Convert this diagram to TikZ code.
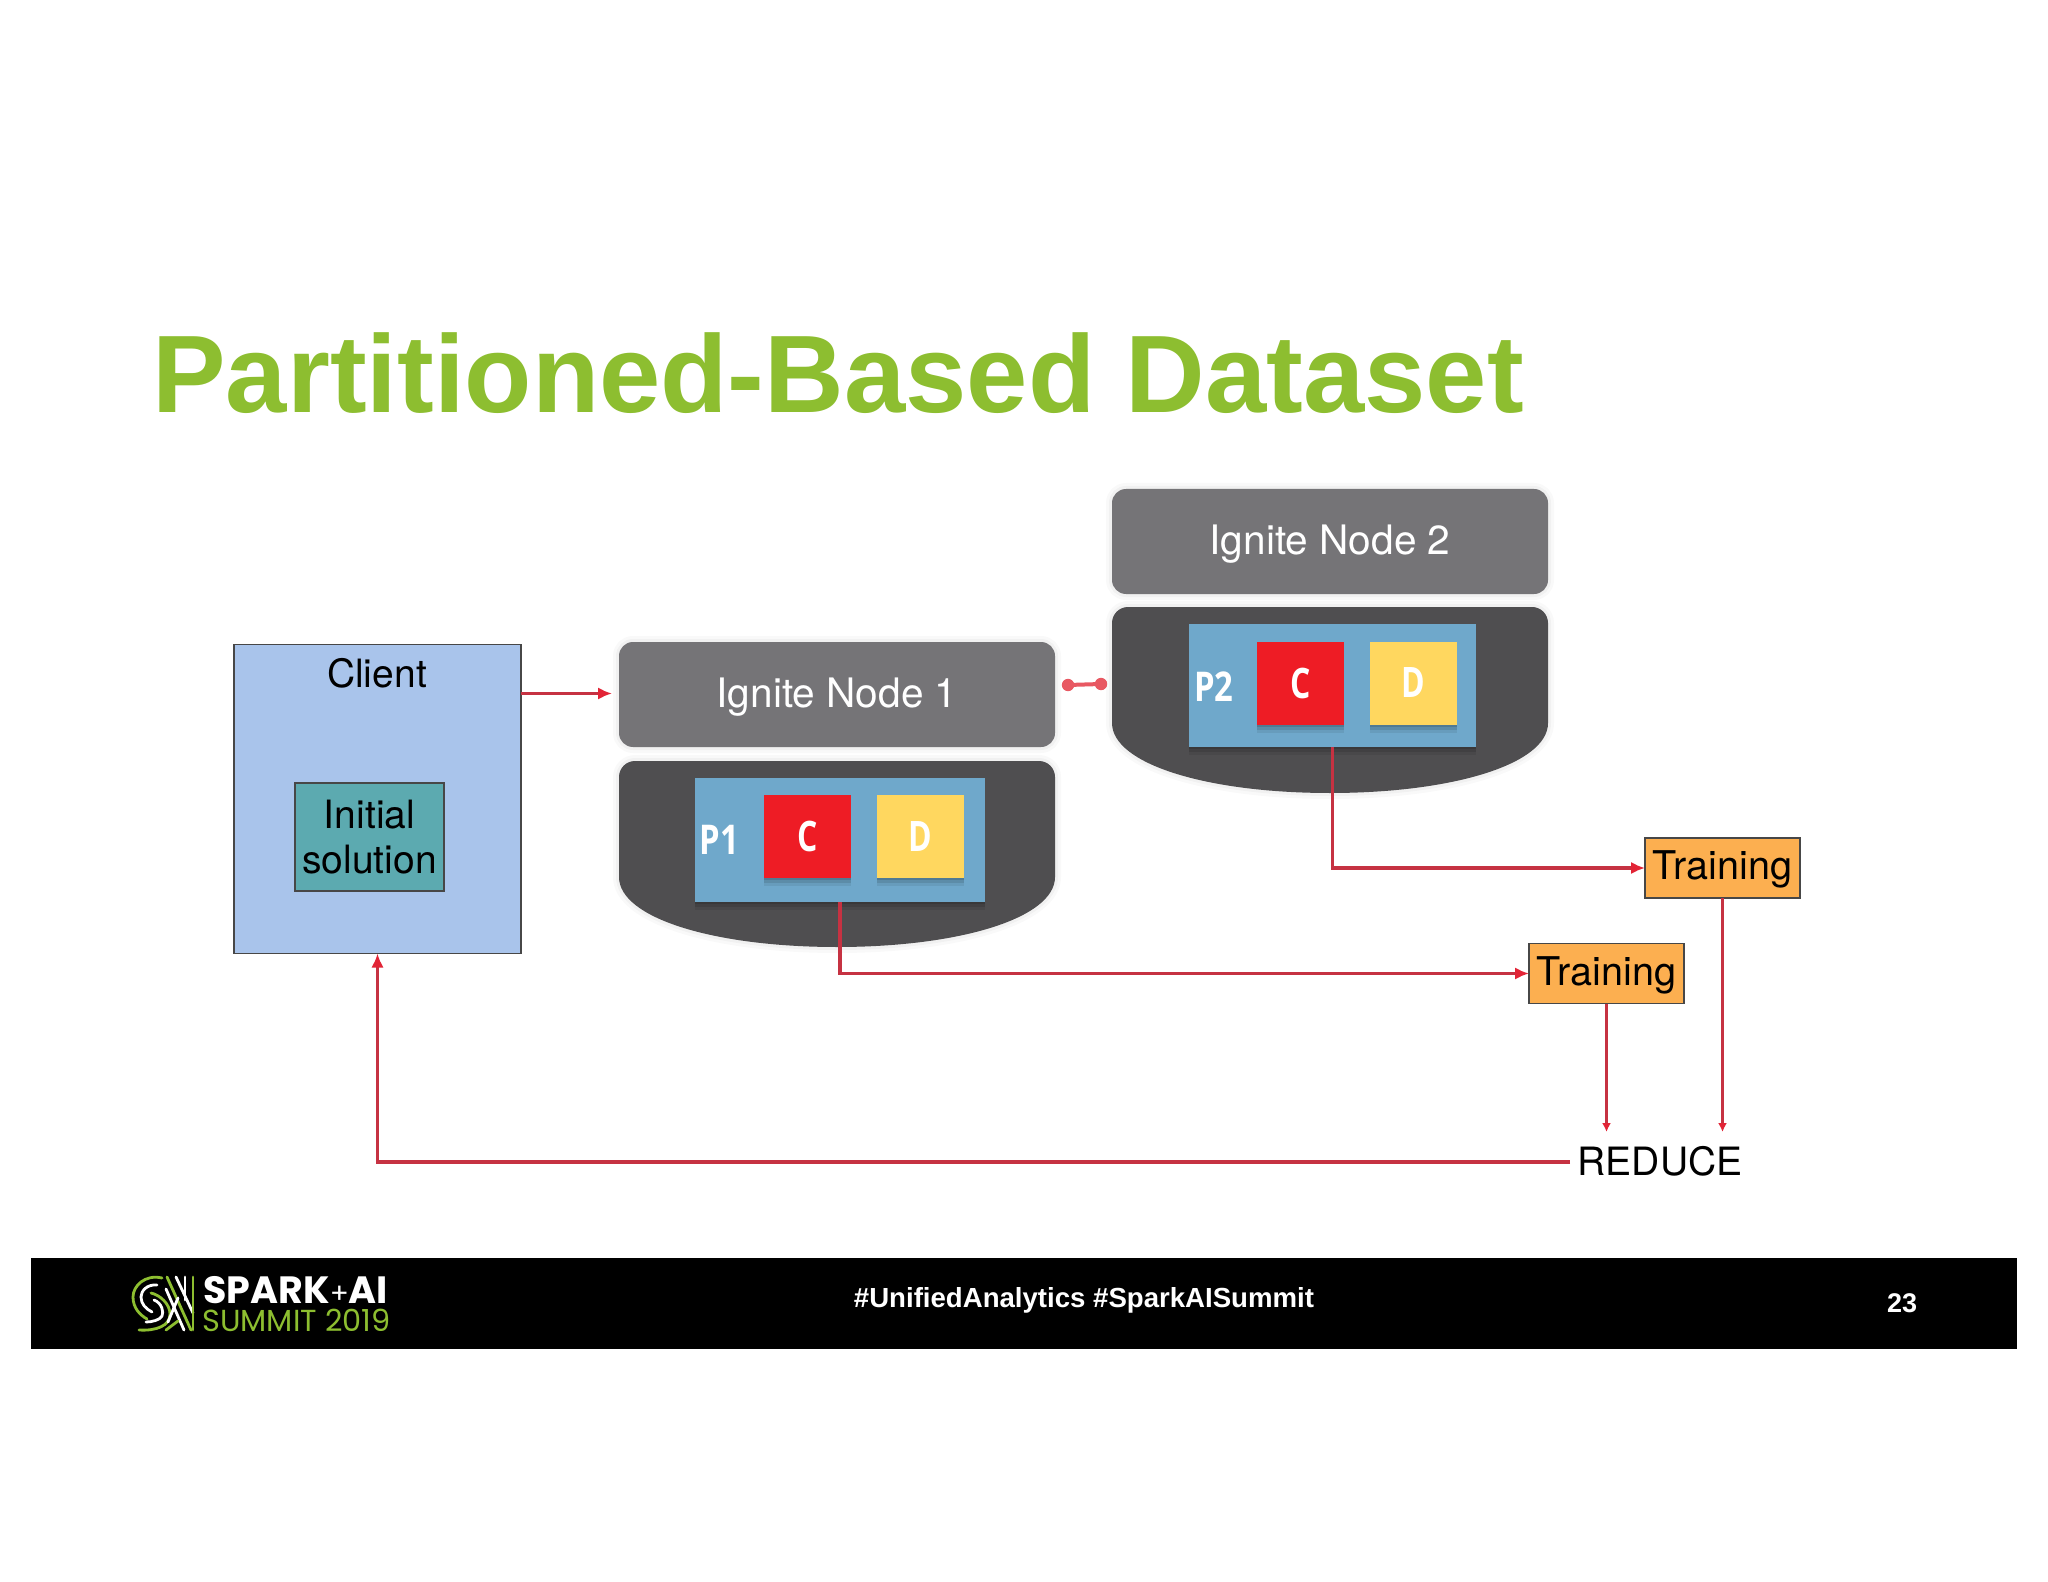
\documentclass[tikz,border=0pt]{standalone}
\usepackage{fontspec}
\setmainfont{Liberation Sans}
\newfontfamily\logofont{Poppins}
\newfontfamily\labelfont{TeX Gyre Heros}
\newfontfamily\partfont{Open Sans}
\usetikzlibrary{arrows.meta}
\definecolor{titlegreen}{RGB}{141,190,48}
\definecolor{igniteA}{RGB}{117,116,119}
\definecolor{igniteB}{RGB}{79,78,80}
\definecolor{clientblue}{RGB}{169,196,235}
\definecolor{tealbox}{RGB}{92,170,176}
\definecolor{orangebox}{RGB}{252,175,80}
\definecolor{pblue}{RGB}{111,168,203}
\definecolor{cred}{RGB}{238,28,37}
\definecolor{dyellow}{RGB}{255,215,95}
\definecolor{wire}{RGB}{198,50,66}
\definecolor{wiretip}{RGB}{226,36,54}
\definecolor{dotred}{RGB}{232,88,98}
\def\px{0.5pt}
\newcommand{\fsz}[1]{\fontsize{#1}{#1}\selectfont}
\newcommand{\narrowbold}[2]{\scalebox{#1}[1]{\partfont\bfseries #2}}
\newcommand{\lowered}[2]{\raisebox{-#1}[0pt][0pt]{#2}}
\tikzset{
  x=0.5pt,y=-0.5pt,
  glow/.style={preaction={draw=black,opacity=.025,line width=6pt},preaction={draw=black,opacity=.03,line width=3pt}},
  softdrop/.style={preaction={fill=black,opacity=.07,transform canvas={yshift=-4pt}},preaction={fill=black,opacity=.10,transform canvas={yshift=-2.5pt}},preaction={fill=black,opacity=.12,transform canvas={yshift=-1.2pt}}},
  pxbox/.style 2 args={rectangle,minimum width=#1*\px,minimum height=#2*\px,inner sep=0pt,outer sep=0pt},
  ignitehead/.style={rounded corners=7pt,fill=igniteA,text=white,font=\labelfont\fsz{20.3pt},glow},
  bowlshape/.style={fill=igniteB,glow},
  partbox/.style={fill=pblue,softdrop},
  cbox/.style={fill=cred,text=white,font=\fsz{21pt},softdrop},
  dbox/.style={fill=dyellow,text=white,font=\fsz{21pt},softdrop},
  plabel/.style={text=white,font=\fsz{20.5pt},inner sep=0pt},
  thinbox/.style={draw=black!72,line width=.6pt},
  trainbox/.style={thinbox,fill=orangebox,text=black,font=\labelfont\fsz{19.8pt}},
  plaintext/.style={inner sep=0pt,font=\labelfont\fsz{19.5pt},text=black},
  wireline/.style={draw=wire,line width=1.6pt},
  wirearrow/.style={wireline,-{Latex[length=7pt,width=6.2pt,color=wiretip]}},
  wiresmall/.style={wireline,-{Latex[length=4.5pt,width=4.5pt,color=wiretip]}},
  logogreen/.style={draw=titlegreen,line width=1.4pt,line cap=round},
  logowhite/.style={draw=white,line width=1.4pt,line cap=round},
}
\begin{document}
\begin{tikzpicture}
\useasboundingbox (0,0) rectangle (2048,1582);
\fill[white] (0,0) rectangle (2048,1582);

% title
\node[anchor=base west,inner sep=0pt,text=titlegreen,font=\bfseries\fsz{55.1pt}] (title) at (152,413) {Partitioned-Based Dataset};

% client
\node[pxbox={287}{309},thinbox,fill=clientblue] (client) at (377.5,799) {};
\node[plaintext] (clientlabel) at (377,673) {Client};
\node[pxbox={149}{108},thinbox,fill=tealbox,align=center,font=\labelfont\fsz{19.5pt},text=black] (init) at (369.5,837) {Initial\\[3.2pt]solution};

% ignite node 1
\node[pxbox={436}{105},ignitehead] (ign1) at (837,694.5) {\lowered{6.6pt}{Ignite Node 1}};
\path[bowlshape] (619,777) arc[start angle=180,end angle=270,x radius=16,y radius=16] -- (1039,761) arc[start angle=270,end angle=360,x radius=16,y radius=16] -- (1055,877) .. controls (1055,918) and (960,947) .. (837,947) .. controls (714,947) and (619,918) .. (619,877) -- cycle;
\node[pxbox={290}{124},partbox] (p1) at (840,840) {};
\node[pxbox={87}{83},cbox] (c1) at (807.5,836.5) {\narrowbold{.76}{C}};
\node[pxbox={87}{83},dbox] (d1) at (920.5,836.5) {\narrowbold{.76}{D}};
\node[plabel] (p1l) at (719.5,840) {\narrowbold{.8}{P1}};

% ignite node 2
\node[pxbox={436}{105},ignitehead] (ign2) at (1330,541.5) {\lowered{6.6pt}{Ignite Node 2}};
\path[bowlshape] (1112,623) arc[start angle=180,end angle=270,x radius=16,y radius=16] -- (1532,607) arc[start angle=270,end angle=360,x radius=16,y radius=16] -- (1548,723) .. controls (1548,764) and (1453,793) .. (1330,793) .. controls (1207,793) and (1112,764) .. (1112,723) -- cycle;
\node[pxbox={287}{123},partbox] (p2) at (1332.5,685.5) {};
\node[pxbox={87}{83},cbox] (c2) at (1300.5,683) {\narrowbold{.76}{C}};
\node[pxbox={87}{83},dbox] (d2) at (1413.5,683) {\narrowbold{.76}{D}};
\node[plabel] (p2l) at (1214,687) {\narrowbold{.8}{P2}};

% training, reduce
\node[pxbox={155}{60},trainbox] (t2) at (1722.5,868) {\lowered{5.8pt}{Training}};
\node[pxbox={155}{60},trainbox] (t1) at (1606.5,973.5) {\lowered{5.8pt}{Training}};
\node[plaintext] (reduce) at (1660,1161) {REDUCE};

\coordinate (r1) at (t1.south |- 0,1132);
\coordinate (r2) at (t2.south |- 0,1132);
\coordinate (back) at (1570,1162);
\coordinate (clientin) at (612,693.5);
\coordinate (dotA) at (1068,685);
\coordinate (dotB) at (1101,684);

% connectors
\draw[wirearrow] (client.east |- clientin) -- (clientin);
\draw[wirearrow] (p1.south) -- (p1.south |- t1.west) -- (t1.west);
\draw[wirearrow] (p2.south) -- (p2.south |- t2.west) -- (t2.west);
\draw[wiresmall] (t1.south) -- (r1);
\draw[wiresmall] (t2.south) -- (r2);
\draw[wirearrow] (back) -- (client.south |- back) -- (client.south);
\draw[draw=dotred,line width=2pt] (dotA) -- (dotB);
\fill[dotred] (dotA) circle[radius=6.2] (dotB) circle[radius=6.2];

% footer
\node[pxbox={1986}{91},fill=black] (bar) at (1024,1303.5) {};
\node[inner sep=0pt,text=white,font=\bfseries\fsz{13.8pt}] (tags) at (1084,1300) {\#UnifiedAnalytics \#SparkAISummit};
\node[inner sep=0pt,text=white,font=\bfseries\fsz{13.5pt}] (pagenum) at (1902,1303) {23};
\node[anchor=base west,inner sep=0pt,text=white,font=\logofont\bfseries\fsz{19pt}] (spark) at (203,1303) {SPARK{\mdseries\fsz{14pt}+}AI};
\node[anchor=base west,inner sep=0pt,text=titlegreen,font=\logofont\fsz{15.2pt}] (summit) at (202,1331) {SUMMIT 2019};
% logo mark
\draw[logogreen] (162,1278) .. controls (145,1274) and (133,1286) .. (133,1297) .. controls (133,1308) and (140,1315) .. (147,1319);
\draw[logowhite] (157,1285) .. controls (147,1284) and (141,1291) .. (141,1297) .. controls (141,1304) and (146,1309) .. (152,1312);
\draw[logowhite] (154,1300) .. controls (162,1303) and (164,1312) .. (162,1316) .. controls (160,1320) and (152,1322) .. (146,1322);
\draw[logogreen] (151,1293) .. controls (160,1295) and (170,1304) .. (170,1314) .. controls (170,1326) and (156,1331) .. (139,1330);
\draw[logowhite] (166,1289) -- (184,1330);
\draw[logogreen] (167,1277) -- (191,1330);
\draw[logowhite] (176,1277) -- (193,1313);
\draw[logogreen] (193,1277) -- (193,1330);
\draw[logowhite] (185,1277) -- (185,1300);
\draw[logogreen] (166,1330) -- (178,1321);
\draw[logowhite] (168,1322) -- (178,1298);
\end{tikzpicture}
\end{document}
